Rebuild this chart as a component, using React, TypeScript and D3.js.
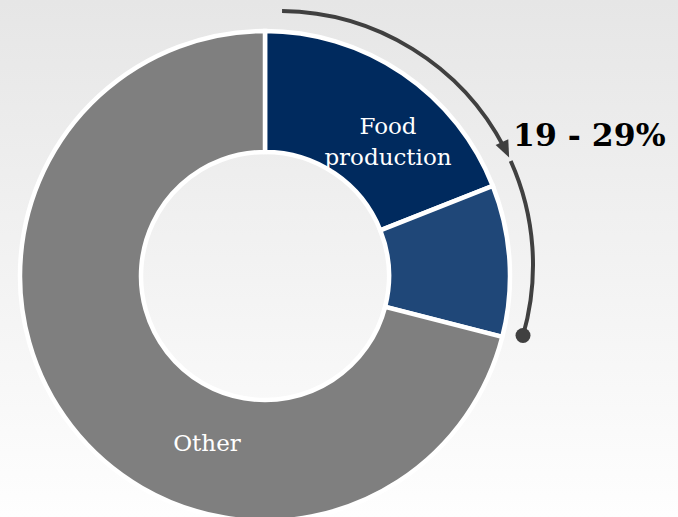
import React from "react";
import * as d3 from "d3";

const categories = ["Food production", "Food-related", "Other"];
const values = [19, 10, 71];
const sliceLabels = ["Food\nproduction", "", "Other"];
const rangeLabel = "19 - 29%";
const rangeStart = 0; // percent, start of annotated range
const rangeLow = 19; // percent
const rangeHigh = 29; // percent

const W = 678;
const H = 517;
const colors = ["#002a5e", "#1f4778", "#7f7f7f"];

export default function App() {
  const cx = 265;
  const cy = 276;
  const outerR = 245;
  const innerR = 124;

  const pie = d3.pie<number>().sort(null).value((d) => d).startAngle(0).endAngle(2 * Math.PI);
  const arcs = pie(values);
  const arcGen = d3.arc<d3.PieArcDatum<number>>().innerRadius(innerR).outerRadius(outerR);

  // annotation arc (its own center)
  const acx = 279;
  const acy = 265;
  const ar = 254;
  const pct = d3.scaleLinear().domain([0, 100]).range([0, 2 * Math.PI]);
  const toSvg = (a: number) => a - Math.PI / 2;
  const aStart = pct(rangeStart) + 0.012;
  const aLow = pct(rangeLow) - 0.06;
  const aLowResume = pct(rangeLow) - 0.045;
  const aHigh = pct(rangeHigh) + 0.03;

  const p1 = d3.path();
  p1.arc(acx, acy, ar, toSvg(aStart), toSvg(aLow - 0.04));
  const p2 = d3.path();
  p2.arc(acx, acy, ar, toSvg(aLowResume), toSvg(aHigh));

  const tip = [acx + ar * Math.sin(aLow), acy - ar * Math.cos(aLow)];
  const tx = Math.cos(aLow);
  const ty = Math.sin(aLow);
  const nx = -ty;
  const ny = tx;
  const len = 17;
  const half = 7;
  const base = [tip[0] - tx * len, tip[1] - ty * len];
  const arrowPts = [
    tip,
    [base[0] + nx * half, base[1] + ny * half],
    [base[0] - nx * half, base[1] - ny * half],
  ];
  const dot = [acx + ar * Math.sin(aHigh), acy - ar * Math.cos(aHigh)];

  const fontFamily = "'DejaVu Serif', Georgia, serif";

  return (
    <svg
      width={W}
      height={H}
      style={{ position: "absolute", left: 0, top: 0, display: "block" }}
    >
      <defs>
        <linearGradient id="bg" x1="0" y1="0" x2="0" y2="1">
          <stop offset="0%" stopColor="#e6e6e6" />
          <stop offset="100%" stopColor="#fefefe" />
        </linearGradient>
      </defs>
      <rect x={0} y={0} width={W} height={H} fill="url(#bg)" />
      <g transform={`translate(${cx},${cy})`}>
        {arcs.map((a, i) => (
          <path key={categories[i]} d={arcGen(a) || ""} fill={colors[i]} stroke="#ffffff" strokeWidth={4.5} strokeLinejoin="miter" />
        ))}
      </g>
      <text x={388} y={134} textAnchor="middle" fill="#ffffff" fontFamily={fontFamily} fontSize={23}>
        {sliceLabels[0].split("\n")[0]}
      </text>
      <text x={388} y={165} textAnchor="middle" fill="#ffffff" fontFamily={fontFamily} fontSize={23}>
        {sliceLabels[0].split("\n")[1]}
      </text>
      <text x={207} y={451} textAnchor="middle" fill="#ffffff" fontFamily={fontFamily} fontSize={23}>
        {sliceLabels[2]}
      </text>
      <path d={p1.toString()} fill="none" stroke="#404040" strokeWidth={4} />
      <path d={p2.toString()} fill="none" stroke="#404040" strokeWidth={4} />
      <polygon points={arrowPts.map((p) => p.join(",")).join(" ")} fill="#404040" />
      <circle cx={dot[0]} cy={dot[1]} r={7.5} fill="#404040" />
      <text x={513} y={146} fill="#000000" fontFamily={fontFamily} fontWeight="bold" fontSize={31.5}>
        {rangeLabel}
      </text>
    </svg>
  );
}
